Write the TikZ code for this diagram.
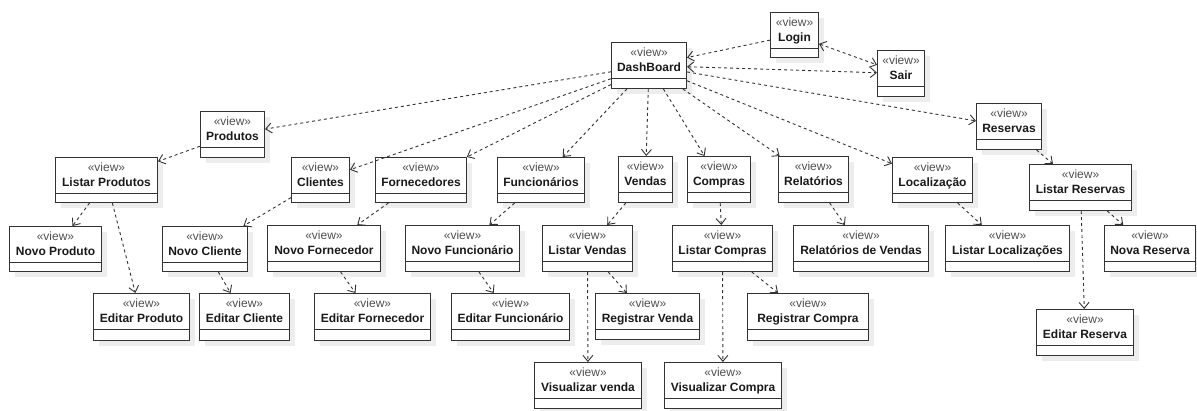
\documentclass[tikz,border=0pt]{standalone}
\usepackage{fontspec}
\setmainfont{Liberation Sans}
\usetikzlibrary{arrows.meta}
\definecolor{boxline}{HTML}{333333}
\definecolor{shadowc}{HTML}{EDEDED}
\definecolor{stereoc}{HTML}{505050}
\definecolor{namec}{HTML}{1A1A1A}
\tikzset{
  viewbox/.style={draw=boxline, line width=1pt, fill=white, inner sep=0pt, anchor=north west},
  stereo/.style={anchor=base, inner sep=0pt, text=stereoc, font=\fontsize{12}{14}\selectfont},
  vname/.style={anchor=base, inner sep=0pt, text=namec, font=\fontsize{12}{14}\selectfont\bfseries},
  dep/.style={draw=boxline, line width=0.9pt, dash pattern=on 3pt off 3pt, -{Straight Barb[length=6pt,width=10pt,line width=0.9pt]}},
  depboth/.style={dep, {Straight Barb[length=6pt,width=10pt,line width=0.9pt]}-{Straight Barb[length=6pt,width=10pt,line width=0.9pt]}},
}
\newcommand\umlview[6]{%
  \fill[shadowc] (#2+6,#3+6) rectangle (#4+6,#5+6);
  \node[viewbox, minimum width={#4-#2}, minimum height={#5-#3}] (#1) at (#2,#3) {};
  \draw[boxline, line width=1pt] ([yshift=-36pt]#1.north west) -- ([yshift=-36pt]#1.north east);
  \node[stereo] (#1-s) at ([yshift=-14pt]#1.north) {«view»};
  \node[vname] (#1-n) at ([yshift=-29pt]#1.north) {#6};
}
\begin{document}
\begin{tikzpicture}[x=1pt,y=-1pt]
\useasboundingbox (0,0) rectangle (1197,410);
\umlview{login}{770}{12}{818}{57}{Login}
\umlview{dash}{611}{42}{686}{88}{DashBoard}
\umlview{sair}{877}{50}{924}{96}{Sair}
\umlview{prod}{200}{111}{264}{157}{Produtos}
\umlview{lprod}{55}{157}{157}{202}{Listar Produtos}
\umlview{nprod}{9}{226}{101}{271}{Novo Produto}
\umlview{eprod}{93}{293}{189}{340}{Editar Produto}
\umlview{cli}{291}{157}{349}{202}{Clientes}
\umlview{ncli}{162}{226}{247}{271}{Novo Cliente}
\umlview{ecli}{199}{293}{289}{340}{Editar Cliente}
\umlview{forn}{375}{157}{466}{202}{Fornecedores}
\umlview{nforn}{267}{225}{380}{271}{Novo Fornecedor}
\umlview{eforn}{314}{293}{430}{340}{Editar Fornecedor}
\umlview{func}{497}{157}{584}{202}{Funcionários}
\umlview{nfunc}{405}{225}{519}{271}{Novo Funcionário}
\umlview{efunc}{451}{293}{569}{340}{Editar Funcionário}
\umlview{vend}{618}{156}{672}{202}{Vendas}
\umlview{lvend}{542}{225}{632}{271}{Listar Vendas}
\umlview{rvend}{595}{293}{699}{339}{Registrar Venda}
\umlview{vvend}{534}{362}{641}{408}{Visualizar venda}
\umlview{comp}{687}{156}{750}{202}{Compras}
\umlview{lcomp}{672}{225}{772}{271}{Listar Compras}
\umlview{rcomp}{747}{293}{868}{340}{Registrar Compra}
\umlview{vcomp}{664}{362}{781}{408}{Visualizar Compra}
\umlview{rel}{778}{156}{848}{202}{Relatórios}
\umlview{rrel}{793}{225}{928}{271}{Relatórios de Vendas}
\umlview{loc}{892}{157}{972}{202}{Localização}
\umlview{lloc}{945}{225}{1069}{271}{Listar Localizações}
\umlview{res}{976}{103}{1041}{149}{Reservas}
\umlview{lres}{1029}{164}{1131}{210}{Listar Reservas}
\umlview{nres}{1104}{225}{1195}{271}{Nova Reserva}
\umlview{eres}{1036}{309}{1133}{355}{Editar Reserva}
% connectors
\draw[dep] (login) -- (dash);
\draw[depboth] (login) -- (sair);
\draw[depboth] (dash) -- (sair);
\draw[dep] (dash) -- (prod);
\draw[dep] (dash) -- (cli);
\draw[dep] (dash) -- (forn);
\draw[dep] (dash) -- (func);
\draw[dep] (dash) -- (vend);
\draw[dep] (dash) -- (comp);
\draw[dep] (dash) -- (rel);
\draw[dep] (dash) -- (loc);
\draw[dep] (dash) -- (res);
\draw[dep] (prod) -- (lprod);
\draw[dep] (lprod) -- (nprod);
\draw[dep] (lprod) -- (eprod);
\draw[dep] (cli) -- (ncli);
\draw[dep] (ncli) -- (ecli);
\draw[dep] (forn) -- (nforn);
\draw[dep] (nforn) -- (eforn);
\draw[dep] (func) -- (nfunc);
\draw[dep] (nfunc) -- (efunc);
\draw[dep] (vend) -- (lvend);
\draw[dep] (lvend) -- (rvend);
\draw[dep] (lvend) -- (vvend);
\draw[dep] (comp) -- (lcomp);
\draw[dep] (lcomp) -- (rcomp);
\draw[dep] (lcomp) -- (vcomp);
\draw[dep] (rel) -- (rrel);
\draw[dep] (loc) -- (lloc);
\draw[dep] (res) -- (lres);
\draw[dep] (lres) -- (nres);
\draw[dep] (lres) -- (eres);
\end{tikzpicture}
\end{document}
